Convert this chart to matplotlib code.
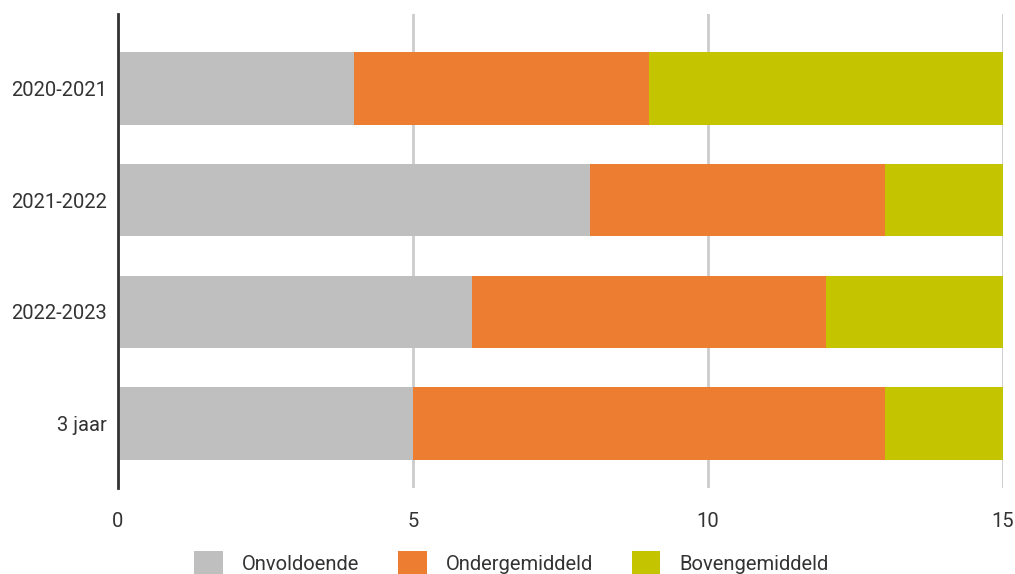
import matplotlib
matplotlib.use('agg')
import matplotlib.pyplot as plt
from matplotlib.patches import Patch
import numpy as np

# scores per schooljaar, stacked left to right
categories = ["2020-2021", "2021-2022", "2022-2023", "3 jaar"]
onvoldoende = [4, 8, 6, 5]
ondergemiddeld = [5, 5, 6, 8]
bovengemiddeld = [6, 2, 3, 2]

series_names = ["Onvoldoende", "Ondergemiddeld", "Bovengemiddeld"]
colors = ["#bfbfbf", "#ed7d31", "#c5c400"]
x_ticks = [0, 5, 10, 15]

plt.rcParams['font.family'] = ['Roboto', 'DejaVu Sans']
text_color = "#333333"

fig = plt.figure(figsize=(10.15, 5.74), dpi=100)
ax = fig.add_axes([118 / 1015, 86 / 574, 885 / 1015, 474 / 574])

y = np.arange(len(categories))
left = np.zeros(len(categories))
for values, name, color in zip([onvoldoende, ondergemiddeld, bovengemiddeld], series_names, colors):
    ax.barh(y, values, left=left, height=0.65, color=color, label=name, zorder=3)
    left += np.array(values)

ax.set_ylim(3.577, -0.667)
ax.set_xlim(0, 15)
ax.set_yticks(y)
ax.set_yticklabels(categories)
ax.set_xticks(x_ticks)
ax.set_xticklabels([str(t) for t in x_ticks])

# vertical grid, dark left axis only
ax.grid(axis='x', color="#cccccc", linewidth=2, zorder=0)
ax.set_axisbelow(True)
for side in ['top', 'right', 'bottom']:
    ax.spines[side].set_visible(False)
ax.spines['left'].set_color(text_color)
ax.spines['left'].set_linewidth(2)
ax.spines['left'].set_zorder(4)
ax.tick_params(axis='both', length=0, labelsize=14.5, labelcolor=text_color)
ax.tick_params(axis='x', pad=17)
ax.tick_params(axis='y', pad=8)

handles = [Patch(facecolor=c, edgecolor='none', label=n) for c, n in zip(colors, series_names)]
fig.legend(handles=handles, loc='center', bbox_to_anchor=(0.504, 0.019), ncol=3,
           frameon=False, fontsize=14.5, labelcolor=text_color,
           handlelength=1.4, handleheight=1.4, handletextpad=0.95, columnspacing=1.95)

plt.savefig('out.png', dpi=100)
